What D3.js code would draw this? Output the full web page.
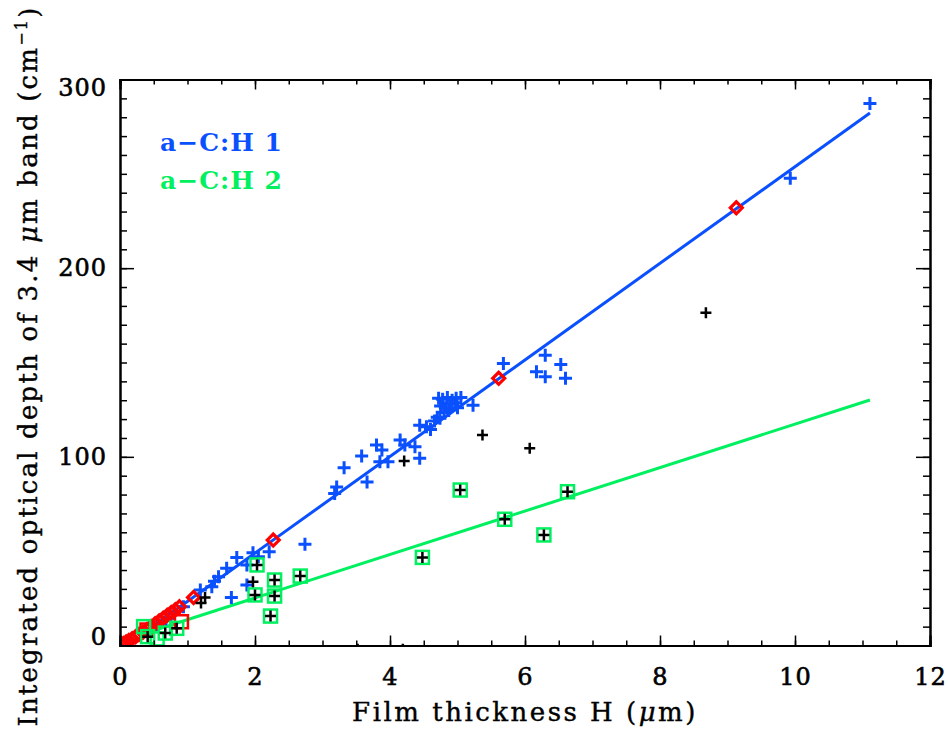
<!DOCTYPE html>
<html><head><meta charset="utf-8">
<script src="https://d3js.org/d3.v7.min.js"></script>
<style>
html,body{margin:0;padding:0;background:#fff;}
svg text{font-family:"DejaVu Serif",serif;}
</style></head>
<body><svg id="c" width="948" height="730"></svg>
<script>
// ---- data ----
const xTicks = [0,2,4,6,8,10,12];
const yTicks = [0,100,200,300];
const seriesNames = ["a\u2212C:H 1","a\u2212C:H 2"];

// a-C:H 1 (blue crosses)
const blueX = [11.11,9.93,5.68,6.30,6.17,6.30,6.53,6.60,5.23,4.44,4.54,4.74,4.15,4.22,4.37,3.80,3.88,3.58,3.85,3.97,4.44,3.32,3.21,3.18,3.66,
  4.72,4.78,4.85,4.92,4.98,5.05,4.75,4.82,4.90,4.97,4.80,4.87,4.70,4.66,5.00,4.60,
  2.74,1.73,1.97,2.21,1.88,1.58,1.46,1.36,1.19,1.88,1.65,0.94,0.80,0.68,0.55,0.45,2.05,1.40];
const blueY = [287.3,247.6,149.5,153.9,145.1,142.5,149.0,141.6,127.4,116.8,116.0,120.4,108.9,106.3,105.4,106.3,103.6,100.4,97.4,97.4,99.2,94.2,84.0,80.5,86.7,
  131.0,130.5,131.5,130.0,131.0,131.5,127.0,126.0,128.0,128.5,123.5,124.5,121.0,119.0,126.0,114.5,
  53.6,46.7,49.2,49.7,42.7,40.9,36.5,31.2,29.4,32.1,25.5,20.6,17.0,13.5,11.0,8.5,47.0,34.0];

// black crosses (other samples)
const blackX = [8.68,5.37,6.07,4.21,1.97,1.26,1.20,3.52,4.19,
  2.03,2.29,2.00,2.29,2.23,2.67,4.48,5.04,5.70,6.28,6.63,0.41,0.67,0.84];
const blackY = [176.4,111.6,104.5,97.8,33.8,25.5,22.5,-2,-2,
  42.7,34.7,26.8,26.2,15.6,36.8,46.7,82.4,66.9,58.6,81.5,4.7,6.6,9.1];

// a-C:H 2 (green squares)
const greenX = [2.03,2.29,2.00,2.29,2.23,2.67,4.48,5.04,5.70,6.28,6.63,0.35,0.41,0.67,0.84,0.55];
const greenY = [42.7,34.7,26.8,26.2,15.6,36.8,46.7,82.4,66.9,58.6,81.5,10.0,4.7,6.6,9.1,3.5];

// red diamonds
const redDX = [9.13,5.61,2.27,1.09,0.88,0.82,0.76,0.70,0.64,0.58,0.52,0.46,0.40,0.34,0.28,0.23,0.18,0.13,0.09,0.05,0.02];
const redDY = [232.0,141.6,55.9,25.5,20.5,19.0,17.5,16.0,14.5,13.0,11.5,10.0,8.5,7.0,5.8,4.6,3.6,2.6,1.8,1.0,0.4];

// red squares
const redSX = [0.91,0.40];
const redSY = [12.6,8.2];

// fitted lines (end points)
const blueLineX = [0.34,11.11], blueLineY = [6.5,282.2];
const greenLineX = [0.34,11.11], greenLineY = [6.1,130.1];

// ---- drawing ----
const BLUE="#0a50ff", GREEN="#00f060", RED="#ff0000";
const svg = d3.select("#c");
const L=120,R=930,T=79.5,B=645.5;
const x = d3.scaleLinear().domain([0,12]).range([L,R]);
const y = d3.scaleLinear().domain([0,300]).range([B,T]);

svg.append("defs").append("clipPath").attr("id","clip")
  .append("rect").attr("x",L).attr("y",T).attr("width",R-L).attr("height",B-T);
const g = svg.append("g").attr("clip-path","url(#clip)");

const line = d3.line().x(d=>x(d[0])).y(d=>y(d[1]));
g.append("path").attr("d",line(d3.zip(blueLineX,blueLineY))).attr("stroke",BLUE).attr("stroke-width",3).attr("fill","none");
g.append("path").attr("d",line(d3.zip(greenLineX,greenLineY))).attr("stroke",GREEN).attr("stroke-width",3).attr("fill","none");

function cross(sel,xs,ys,col,s,w){
  sel.append("g").selectAll("path").data(d3.zip(xs,ys)).join("path")
    .attr("d",d=>{const px=x(d[0]),py=y(d[1]);return `M${px-s},${py}H${px+s}M${px},${py-s}V${py+s}`;})
    .attr("stroke",col).attr("stroke-width",w).attr("fill","none");
}
function square(sel,xs,ys,col,s,w){
  sel.append("g").selectAll("rect").data(d3.zip(xs,ys)).join("rect")
    .attr("x",d=>x(d[0])-s).attr("y",d=>y(d[1])-s).attr("width",2*s).attr("height",2*s)
    .attr("stroke",col).attr("stroke-width",w).attr("fill","none");
}
function diamond(sel,xs,ys,col,s,w){
  sel.append("g").selectAll("path").data(d3.zip(xs,ys)).join("path")
    .attr("d",d=>{const px=x(d[0]),py=y(d[1]);return `M${px-s},${py}L${px},${py-s}L${px+s},${py}L${px},${py+s}Z`;})
    .attr("stroke",col).attr("stroke-width",w).attr("fill","none");
}
cross(g,blueX,blueY,BLUE,6.5,3);
square(g,redSX,redSY,RED,6.5,2.5);
diamond(g,redDX,redDY,RED,6,3.2);
square(g,greenX,greenY,GREEN,6.5,2.5);
cross(g,blackX,blackY,"#000",5.5,2.5);

// axes (ticks inward, IDL style)
function styleAxis(a){a.select(".domain").attr("stroke","#000").attr("stroke-width",2);
  a.selectAll(".tick line").attr("stroke","#000").attr("stroke-width",1.5);}
const minorX = d3.range(0,12.01,0.5), minorY = d3.range(0,300.1,10);
const gx = svg.append("g").attr("transform",`translate(0,${B})`)
  .call(d3.axisBottom(x).tickValues(xTicks).tickSize(-10).tickPadding(22).tickFormat(d3.format("d")));
svg.append("g").attr("transform",`translate(0,${B})`).call(d3.axisBottom(x).tickValues(minorX).tickSize(-5).tickFormat("")).call(styleAxis);
svg.append("g").attr("transform",`translate(0,${T})`).call(d3.axisTop(x).tickValues(xTicks).tickSize(-10).tickFormat("")).call(styleAxis);
svg.append("g").attr("transform",`translate(0,${T})`).call(d3.axisTop(x).tickValues(minorX).tickSize(-5).tickFormat("")).call(styleAxis);
const gy = svg.append("g").attr("transform",`translate(${L},0)`)
  .call(d3.axisLeft(y).tickValues(yTicks).tickSize(-14).tickPadding(13).tickFormat(d3.format("d")));
svg.append("g").attr("transform",`translate(${L},0)`).call(d3.axisLeft(y).tickValues(minorY).tickSize(-7).tickFormat("")).call(styleAxis);
svg.append("g").attr("transform",`translate(${R},0)`).call(d3.axisRight(y).tickValues(yTicks).tickSize(-14).tickFormat("")).call(styleAxis);
svg.append("g").attr("transform",`translate(${R},0)`).call(d3.axisRight(y).tickValues(minorY).tickSize(-7).tickFormat("")).call(styleAxis);
[gx,gy].forEach(styleAxis);
[gx,gy].forEach(a=>a.selectAll("text").attr("font-size",24).attr("fill","#000")
  .attr("stroke","#000").attr("stroke-width",0.6).attr("letter-spacing",1).attr("font-family","DejaVu Serif"));
gy.selectAll(".tick text").attr("dy",d=> d===0 ? "-0.05em" : d===300 ? "0.68em" : "0.32em");

// axis titles
const xt = svg.append("text").attr("x",525).attr("y",721).attr("text-anchor","middle").attr("font-size",26)
  .attr("letter-spacing",2.5).attr("stroke","#000").attr("stroke-width",0.4);
xt.append("tspan").text("Film thickness H (");
xt.append("tspan").attr("font-style","italic").text("\u03bc");
xt.append("tspan").text("m)");
const yt = svg.append("text").attr("transform","translate(37,366) rotate(-90)").attr("text-anchor","middle").attr("font-size",26)
  .attr("letter-spacing",2.2).attr("stroke","#000").attr("stroke-width",0.4);
yt.append("tspan").text("Integrated optical depth of 3.4 ");
yt.append("tspan").attr("font-style","italic").text("\u03bc");
yt.append("tspan").text("m band (cm");
yt.append("tspan").attr("font-size",16).attr("dy","-0.6em").text("\u22121");
yt.append("tspan").attr("dy","0.4em").text(")");

// legend
const leg = svg.append("g");
leg.selectAll("text").data(seriesNames).join("text")
  .attr("x",160).attr("y",(d,i)=>151+i*38)
  .attr("font-family","DejaVu Sans Mono").attr("font-size",25).attr("letter-spacing",1)
  .attr("font-weight","bold")
  .attr("fill",(d,i)=>i===0?BLUE:GREEN).text(d=>d);
</script></body></html>
